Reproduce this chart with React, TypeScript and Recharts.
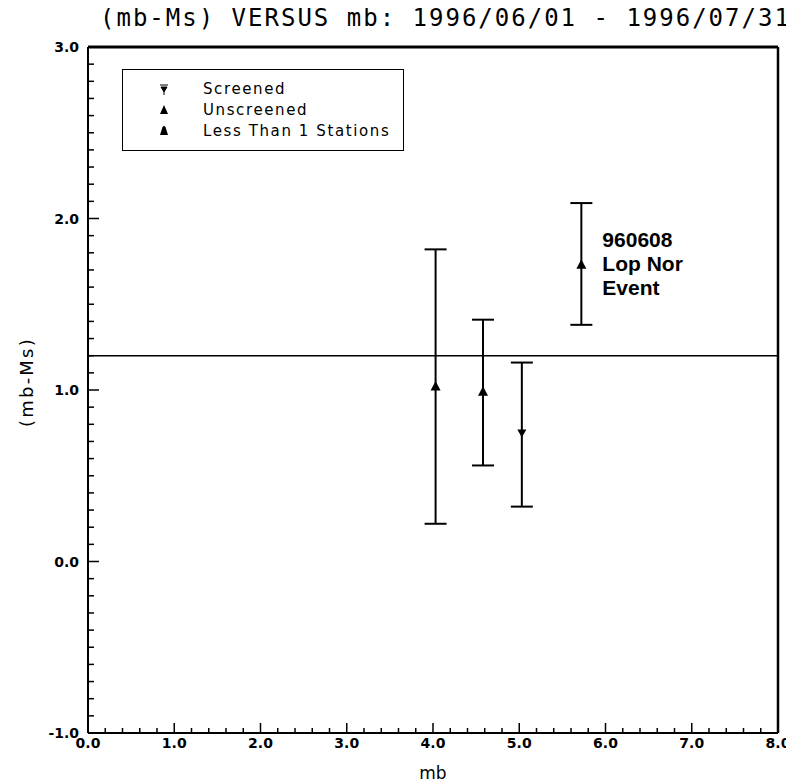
import React from 'react';
import {
  ScatterChart,
  Scatter,
  XAxis,
  YAxis,
  ErrorBar,
  ReferenceLine,
  ReferenceDot,
  Legend,
  Label,
} from 'recharts';

// tick labels
const xMajor = [0, 1, 2, 3, 4, 5, 6, 7, 8];
const yMajor = [-1, 0, 1, 2, 3];
const xMinorStep = 0.2;
const yMinorStep = 0.1;

// Screened events
const screenedMb = [5.03];
const screenedDiff = [0.75];
const screenedLow = [0.32];
const screenedHigh = [1.16];

// Unscreened events
const unscreenedMb = [4.03, 4.58, 5.72];
const unscreenedDiff = [1.02, 0.99, 1.73];
const unscreenedLow = [0.22, 0.56, 1.38];
const unscreenedHigh = [1.82, 1.41, 2.09];

// less than 1 station (none in this period)
const fewMb: number[] = [];
const fewDiff: number[] = [];
const fewLow: number[] = [];
const fewHigh: number[] = [];

const seriesNames = ['Screened', 'Unscreened', 'Less Than 1 Stations'];
const referenceLevel = 1.2;
const eventMb = 5.72;
const eventDiff = 1.73;
const eventLabel = ['960608', 'Lop Nor', 'Event'];
const title = '(mb-Ms) VERSUS mb: 1996/06/01 - 1996/07/31';

const W = 786;
const H = 776;
const margin = { top: 37, right: 14, bottom: 3, left: 8 };
const PT = 39;
const PB = 725;
const PL = 80;
const PR = 770;

const range = (lo: number, hi: number, step: number) => {
  const n = Math.round((hi - lo) / step);
  const out: number[] = [];
  for (let i = 0; i <= n; i++) out.push(+(lo + i * step).toFixed(3));
  return out;
};

const xTicks = range(xMajor[0], xMajor[xMajor.length - 1], xMinorStep);
const yTicks = range(yMajor[0], yMajor[yMajor.length - 1], yMinorStep);
const isMajor = (v: number) => Math.abs(v - Math.round(v)) < 1e-6;

const toPoints = (mb: number[], diff: number[], low: number[], high: number[]) =>
  mb.map((x, i) => ({ mb: x, diff: diff[i], err: [diff[i] - low[i], high[i] - diff[i]] }));

const screened = toPoints(screenedMb, screenedDiff, screenedLow, screenedHigh);
const unscreened = toPoints(unscreenedMb, unscreenedDiff, unscreenedLow, unscreenedHigh);
const few = toPoints(fewMb, fewDiff, fewLow, fewHigh);

const tickFont = { fontFamily: 'DejaVu Sans', fontWeight: 700, fontSize: 14 };

const BottomTick = (props: any) => {
  const { x, payload } = props;
  const major = isMajor(payload.value);
  return (
    <g>
      <line x1={x} x2={x} y1={PB} y2={PB - (major ? 10 : 5)} stroke="#000" strokeWidth={1.5} />
      {major && (
        <text x={x} y={PB + 15} textAnchor="middle" fill="#000" {...tickFont}>
          {payload.value.toFixed(1)}
        </text>
      )}
    </g>
  );
};

const TopTick = (props: any) => {
  const { x, payload } = props;
  const major = isMajor(payload.value);
  return <line x1={x} x2={x} y1={PT} y2={PT + (major ? 7 : 5)} stroke="#000" strokeWidth={1.5} />;
};

const LeftTick = (props: any) => {
  const { y, payload } = props;
  const major = isMajor(payload.value);
  return (
    <g>
      <line x1={PL} x2={PL + (major ? 11 : 6)} y1={y} y2={y} stroke="#000" strokeWidth={1.5} />
      {major && (
        <text x={PL - 9} y={y + 5} textAnchor="end" fill="#000" {...tickFont}>
          {payload.value.toFixed(1)}
        </text>
      )}
    </g>
  );
};

const RightTick = (props: any) => {
  const { y, payload } = props;
  const major = isMajor(payload.value);
  return <line x1={PR} x2={PR - (major ? 8 : 6)} y1={y} y2={y} stroke="#000" strokeWidth={1.5} />;
};

const TriUp = ({ cx, cy }: any) => (
  <path d={`M${cx},${cy - 5.5} L${cx + 5},${cy + 4} L${cx - 5},${cy + 4} Z`} fill="#000" />
);

const TriDown = ({ cx, cy }: any) => (
  <path d={`M${cx},${cy + 4.5} L${cx + 4.5},${cy - 3.5} L${cx - 4.5},${cy - 3.5} Z`} fill="#000" />
);

const legendMarker = (name: string) => {
  if (name === 'Screened')
    return <path d="M2,3 L10,3 M3,5 L9,5 L6,10 Z M6,5 L6,13" stroke="#000" strokeWidth={1} fill="#000" />;
  if (name === 'Unscreened') return <path d="M6,2 L10,11 L2,11 Z" fill="#000" />;
  return <path d="M4.5,3 Q6,1 7.5,3 L10,11 L2,11 Z" fill="#000" />;
};

const LegendBox = () => (
  <div
    style={{
      position: 'relative',
      width: 282,
      height: 82,
      boxSizing: 'border-box',
      border: '1.5px solid #000',
      background: '#fff',
      fontFamily: 'DejaVu Sans',
      fontSize: 15,
      letterSpacing: 1.6,
      color: '#000',
    }}
  >
    {seriesNames.map((name, i) => (
      <div
        key={name}
        style={{ position: 'absolute', left: 35, top: 10 + i * 21, height: 17, display: 'flex', alignItems: 'center' }}
      >
        <svg width={12} height={14} style={{ marginRight: 33 }}>
          {legendMarker(name)}
        </svg>
        <span>{name}</span>
      </div>
    ))}
  </div>
);

const EventLabel = (props: any) => {
  const { viewBox } = props;
  const x = viewBox.x + viewBox.width / 2 + 21;
  const y = viewBox.y + viewBox.height / 2;
  return (
    <text fill="#000" fontFamily="Liberation Sans" fontWeight={700} fontSize={21}>
      {eventLabel.map((line, i) => (
        <tspan key={line} x={x} y={y - 18 + i * 24}>
          {line}
        </tspan>
      ))}
    </text>
  );
};

const AxisTitle = (props: any) => {
  const { viewBox, value, vertical } = props;
  if (vertical) {
    const cx = viewBox.x + 10;
    const cy = PT + (PB - PT) / 2 - 8;
    return (
      <text x={cx} y={cy} transform={`rotate(-90 ${cx} ${cy})`} textAnchor="middle" dominantBaseline="central"
        fontFamily="DejaVu Sans" fontSize={18} letterSpacing={2.2} fill="#000">
        {value}
      </text>
    );
  }
  return (
    <text x={viewBox.x + viewBox.width / 2} y={viewBox.y + 46} textAnchor="middle" fontFamily="DejaVu Sans"
      fontSize={17} fill="#000">
      {value}
    </text>
  );
};

export default function App() {
  return (
    <div style={{ position: 'relative', width: W, height: H, background: '#fff' }}>
      <div
        style={{
          position: 'absolute',
          left: 92,
          top: -2,
          fontFamily: 'DejaVu Sans Mono',
          fontSize: 24,
          lineHeight: '24px',
          letterSpacing: 2,
          whiteSpace: 'pre',
          color: '#000',
        }}
      >
        {title}
      </div>
      <ScatterChart width={W} height={H} margin={margin}>
        <XAxis
          xAxisId="bottom"
          dataKey="mb"
          type="number"
          domain={[xMajor[0], xMajor[xMajor.length - 1]]}
          ticks={xTicks}
          interval={0}
          height={48}
          tickSize={0}
          tick={<BottomTick />}
          axisLine={{ stroke: '#000', strokeWidth: 2 }}
        >
          <Label value="mb" content={<AxisTitle />} />
        </XAxis>
        <XAxis
          xAxisId="top"
          orientation="top"
          type="number"
          domain={[xMajor[0], xMajor[xMajor.length - 1]]}
          ticks={xTicks}
          interval={0}
          height={2}
          tickSize={0}
          tick={<TopTick />}
          axisLine={{ stroke: '#000', strokeWidth: 3 }}
        />
        <YAxis
          yAxisId="left"
          dataKey="diff"
          type="number"
          domain={[yMajor[0], yMajor[yMajor.length - 1]]}
          ticks={yTicks}
          interval={0}
          width={72}
          tickSize={0}
          tick={<LeftTick />}
          axisLine={{ stroke: '#000', strokeWidth: 2 }}
        >
          <Label value="(mb-Ms)" content={<AxisTitle vertical />} />
        </YAxis>
        <YAxis
          yAxisId="right"
          orientation="right"
          type="number"
          domain={[yMajor[0], yMajor[yMajor.length - 1]]}
          ticks={yTicks}
          interval={0}
          width={2}
          tickSize={0}
          tick={<RightTick />}
          axisLine={{ stroke: '#000', strokeWidth: 2.5 }}
        />
        <ReferenceLine xAxisId="bottom" yAxisId="left" y={referenceLevel} stroke="#000" strokeWidth={1.5} />
        <Legend
          layout="vertical"
          align="center"
          verticalAlign="middle"
          content={<LegendBox />}
          wrapperStyle={{ left: 114, top: 61, width: 282, height: 82 }}
        />
        <Scatter name={seriesNames[0]} data={screened} xAxisId="bottom" yAxisId="left" shape={<TriDown />} isAnimationActive={false}>
          <ErrorBar dataKey="err" direction="y" width={11} stroke="#000" strokeWidth={2} />
        </Scatter>
        <Scatter name={seriesNames[1]} data={unscreened} xAxisId="bottom" yAxisId="left" shape={<TriUp />} isAnimationActive={false}>
          <ErrorBar dataKey="err" direction="y" width={11} stroke="#000" strokeWidth={2} />
        </Scatter>
        <Scatter name={seriesNames[2]} data={few} xAxisId="bottom" yAxisId="left" shape={<TriUp />} isAnimationActive={false}>
          <ErrorBar dataKey="err" direction="y" width={11} stroke="#000" strokeWidth={2} />
        </Scatter>
        <ReferenceDot
          xAxisId="bottom"
          yAxisId="left"
          x={eventMb}
          y={eventDiff}
          r={1}
          fill="none"
          stroke="none"
          label={<EventLabel />}
        />
      </ScatterChart>
    </div>
  );
}
